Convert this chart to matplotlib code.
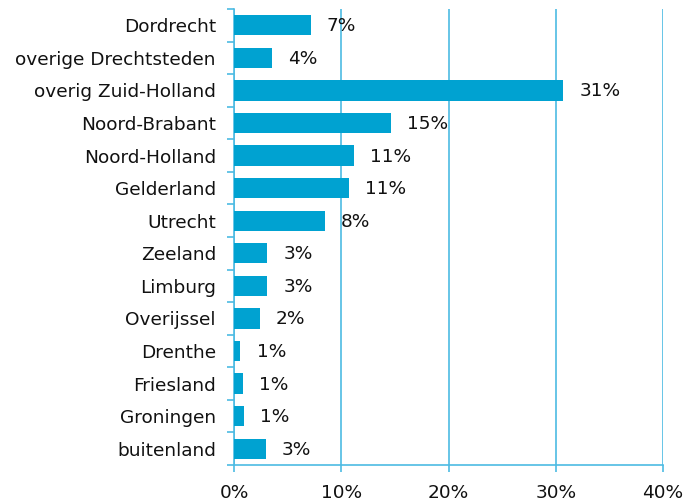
import matplotlib
matplotlib.use("Agg")
import matplotlib.pyplot as plt
import numpy as np

categories = ["Dordrecht", "overige Drechtsteden", "overig Zuid-Holland", "Noord-Brabant",
              "Noord-Holland", "Gelderland", "Utrecht", "Zeeland", "Limburg", "Overijssel",
              "Drenthe", "Friesland", "Groningen", "buitenland"]
values = [7.15, 3.57, 30.7, 14.6, 11.2, 10.7, 8.5, 3.1, 3.1, 2.4, 0.6, 0.8, 0.95, 2.95]
labels = ["7%", "4%", "31%", "15%", "11%", "11%", "8%", "3%", "3%", "2%", "1%", "1%", "1%", "3%"]
xticks = [0, 10, 20, 30, 40]
xticklabels = ["0%", "10%", "20%", "30%", "40%"]

bar_color = "#00A2D1"
grid_color = "#4DBBE3"

plt.rcParams['font.family'] = ['DejaVu Sans']
fig = plt.figure(figsize=(6.85, 5.01), dpi=100)
ax = fig.add_axes([234/685, 1-465/501, (663-234)/685, (465-9)/501])

fs = 13.3
y = np.arange(len(categories))
ax.barh(y, values, height=0.62, color=bar_color, zorder=3)
for yi, v, lab in zip(y, values, labels):
    ax.text(v + 1.5, yi + 0.03, lab, va='center', ha='left', fontsize=fs, color='#111111', zorder=4)

ax.set_xlim(0, 40)
ax.set_ylim(len(categories) - 0.5, -0.5)
ax.set_yticks(y)
ax.set_yticklabels(categories, fontsize=fs, color='#111111')
ax.set_yticks(np.arange(-0.5, len(categories), 1), minor=True)
ax.tick_params(axis='y', which='major', length=0, pad=13)
ax.tick_params(axis='y', which='minor', length=5, color=grid_color, width=1.2)
ax.set_xticks(xticks)
ax.set_xticklabels(xticklabels, fontsize=fs, color='#111111')
ax.tick_params(axis='x', length=5, color=grid_color, width=1.2, pad=9)

ax.grid(axis='x', color=grid_color, linewidth=1.2, zorder=0)
for s in ['top', 'right']:
    ax.spines[s].set_visible(False)
for s in ['left', 'bottom']:
    ax.spines[s].set_color(grid_color)
    ax.spines[s].set_linewidth(1.2)

fig.savefig("out.png", dpi=100)
